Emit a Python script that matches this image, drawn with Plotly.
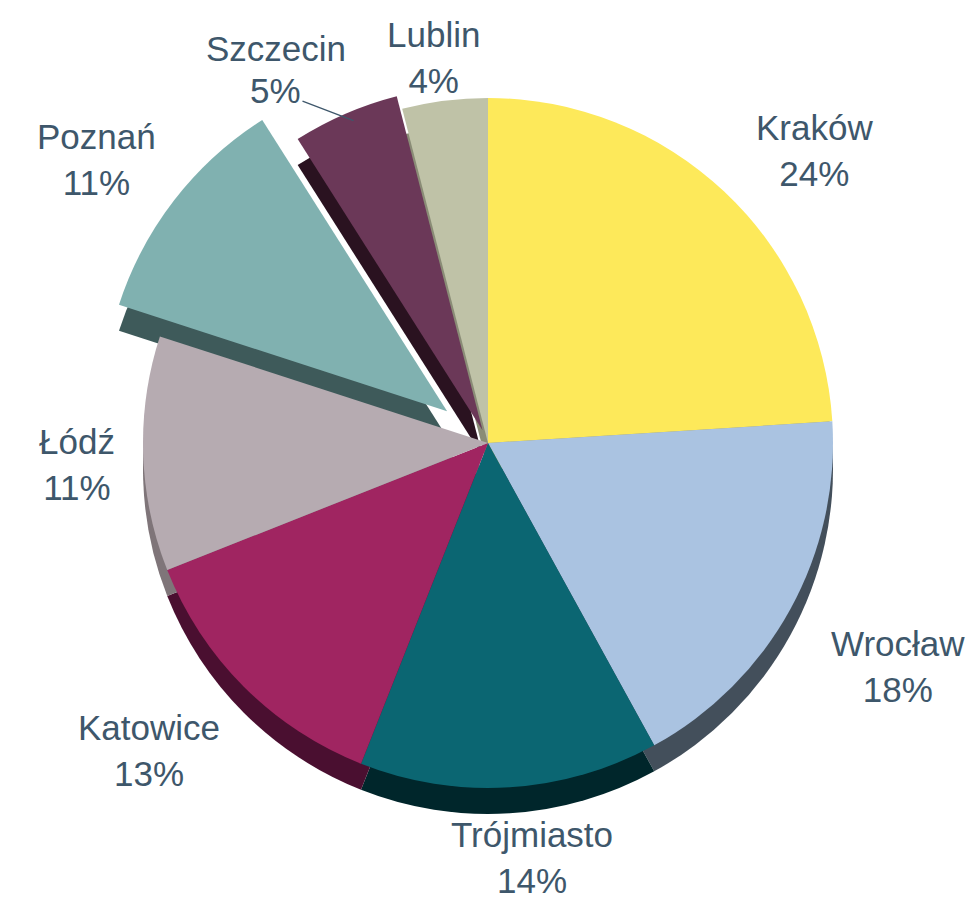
import math
import plotly.graph_objects as go

cities = ["Kraków", "Wrocław", "Trójmiasto", "Katowice", "Łódź", "Poznań", "Szczecin", "Lublin"]
shares = [24, 18, 14, 13, 11, 11, 5, 4]
pulls = [0, 0, 0, 0, 0, 0.15, 0.04, 0]
top_colors = ["#FDE95A", "#AAC3E1", "#0B6672", "#A02561", "#B6ABB1", "#80B1B0", "#6B3858", "#BFC2A7"]
side_colors = ["#B8A73A", "#434F5B", "#00262B", "#4A0F30", "#7F7579", "#3E5A5A", "#2A1220", "#8A8C76"]

W, H = 977, 906
CX, CY = 488, 442          # wanted pie centre in pixels (from top-left)
SHIFT_X, SHIFT_Y = 8, 7    # plotly recentres pulled pies; compensate
R = 345                    # pie radius in pixels
DEPTH = 26                 # thickness of the 3-D rim in pixels
TEXT_COLOR = "#3E576B"
FONT = "Liberation Sans, Arial, sans-serif"
FS = 35

max_pull = max(pulls)
half = R * (1 + max_pull) / H
dx = R * (1 + max_pull) / W
dcx = (CX - SHIFT_X) / W
dcy = (H - (CY - SHIFT_Y)) / H

fig = go.Figure()
fig.add_trace(go.Pie(
    labels=cities, values=shares, pull=pulls, sort=False, direction="clockwise",
    rotation=0, marker=dict(colors=side_colors, line=dict(width=0)),
    textinfo="none", hoverinfo="skip", showlegend=False,
    domain=dict(x=[dcx - dx, dcx + dx], y=[dcy - half - DEPTH / H, dcy + half - DEPTH / H]),
))
fig.add_trace(go.Pie(
    labels=cities, values=shares, pull=pulls, sort=False, direction="clockwise",
    rotation=0, marker=dict(colors=top_colors, line=dict(width=0)),
    textinfo="none", showlegend=False,
    domain=dict(x=[dcx - dx, dcx + dx], y=[dcy - half, dcy + half]),
))

# outside labels placed from the slice angles
total = sum(shares)
cum = 0
annotations = []
GAPX, GAPY = 35, 8
HH = 42
font = dict(family=FONT, size=FS, color=TEXT_COLOR)
for name, v, p in zip(cities, shares, pulls):
    theta = 2 * math.pi * (cum + v / 2) / total
    cum += v
    s, c = math.sin(theta), math.cos(theta)
    pct = f"{round(100 * v / total)}%"
    hw = 0.56 * FS * len(name) / 2
    if name == "Szczecin":
        dist = R * (1 + p)
        px, py = CX + dist * s, CY - dist * c
        annotations.append(dict(
            x=px / W, y=1 - py / H, xref="paper", yref="paper", text=pct,
            showarrow=True, arrowhead=0, arrowwidth=1.3, arrowcolor=TEXT_COLOR,
            ax=-78, ay=-30, standoff=0, font=font,
        ))
        annotations.append(dict(
            x=px / W, y=1 - py / H, xref="paper", yref="paper", text=name,
            showarrow=False, xanchor="center", yanchor="middle",
            xshift=-78, yshift=30 + 42, font=font,
        ))
        continue
    r_eff = R * (1 + p)
    depth_extra = 0.5 * DEPTH * (-c) if c < 0 else 0
    px = CX + (r_eff + GAPX) * s
    py = CY - (r_eff + GAPY) * c + depth_extra
    kx = max(-1, min(1, 2 * s))
    ky = max(-1, min(1, 2 * c))
    tx, ty = px + hw * kx, py - HH * ky
    annotations.append(dict(
        x=tx / W, y=1 - ty / H, xref="paper", yref="paper", text=f"{name}<br>{pct}",
        showarrow=False, xanchor="center", yanchor="middle", font=font,
    ))

fig.update_layout(
    width=W, height=H, margin=dict(l=0, r=0, t=0, b=0),
    paper_bgcolor="white", plot_bgcolor="white", showlegend=False,
    annotations=annotations,
)
fig.write_html("out.html")
